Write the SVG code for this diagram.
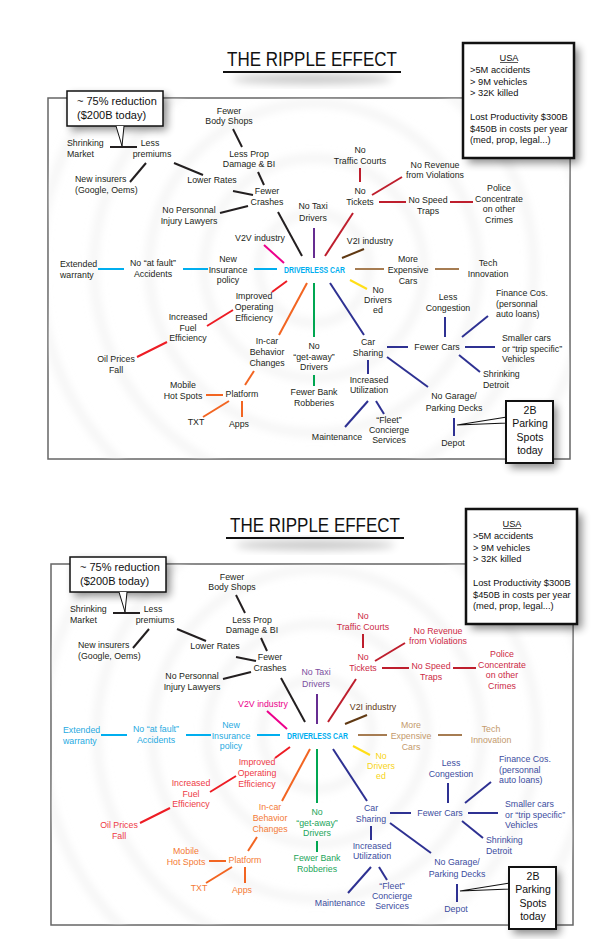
<svg xmlns="http://www.w3.org/2000/svg" width="612" height="939" viewBox="0 0 612 939">
<defs>
<style>
text{font-family:"Liberation Sans",Arial,sans-serif;font-size:8.8px;text-anchor:middle;fill:#231f20}
.s{text-anchor:start}
.dc{font-weight:bold;font-size:9px;fill:#00aeef}
.title{font-size:20px;fill:#111}
.box{font-size:9.3px;text-anchor:start;fill:#111}
.call{font-size:11px;text-anchor:start;fill:#111}
.call2{font-size:10.5px;fill:#111}
.cn line{stroke-width:2;fill:none}
.lk{stroke:#231f20}.lm{stroke:#ec008c}.lp{stroke:#662d91}.lr{stroke:#be1e2d}.lb{stroke:#603913}
.lt{stroke:#a67c52}.ly{stroke:#ffde17}.ln{stroke:#2e3192}.lg{stroke:#00a651}.lc{stroke:#00aeef}
.le{stroke:#ed1c24}.lo{stroke:#f26522}
.tm{fill:#ec008c}.tp{fill:#7b4fa0}.tr{fill:#cc2a45}.tb{fill:#603913}.tt{fill:#c49a6c}.ty{fill:#f7d417}
.tn{fill:#3c4da0}.tg{fill:#22a55a}.tc{fill:#27aae1}.te{fill:#ee3a45}.to{fill:#f47a36}
.ring{fill:none;stroke:#e6e6e6;stroke-width:8;opacity:.45}
.frame{fill:#fff;stroke:#666;stroke-width:1.5}
.shadow{fill:#000;opacity:.45}
.bx{fill:#fff;stroke:#111}
</style>
<filter id="bs" x="-50%" y="-50%" width="200%" height="200%"><feGaussianBlur stdDeviation="4"/></filter>
<filter id="br" x="-20%" y="-20%" width="140%" height="140%"><feGaussianBlur stdDeviation="4"/></filter>
<clipPath id="clipF" clipPathUnits="userSpaceOnUse"><rect x="48" y="98" width="522" height="361"/></clipPath>
</defs>
<rect width="612" height="939" fill="#fff"/>

<g id="panel-top">
 <g id="t-title">
  <ellipse cx="312" cy="79" rx="80" ry="5" fill="#000" opacity=".22" filter="url(#bs)"/>
  <text class="title" x="312" y="66" textLength="170" lengthAdjust="spacingAndGlyphs">THE RIPPLE EFFECT</text>
  <line x1="223" y1="72" x2="401" y2="72" stroke="#111" stroke-width="2"/>
 </g>
 <rect id="t-frame" class="frame" x="48" y="98" width="522" height="361"/>
 <g id="t-ripples" clip-path="url(#clipF)" filter="url(#br)">
  <circle class="ring" cx="314" cy="268" r="55"/>
  <circle class="ring" cx="314" cy="268" r="110"/>
  <circle class="ring" cx="314" cy="268" r="165"/>
  <circle class="ring" cx="314" cy="268" r="220"/>
  <circle class="ring" cx="314" cy="268" r="275"/>
 </g>
 <g id="t-connectors" class="cn">
  <line class="lk" x1="233" y1="129" x2="242" y2="147"/>
  <line class="lk" x1="258" y1="172" x2="264" y2="185"/>
  <line class="lk" x1="110" y1="147" x2="137" y2="147"/>
  <line class="lk" x1="146" y1="163" x2="130" y2="182"/>
  <line class="lk" x1="174" y1="163" x2="203" y2="175"/>
  <line class="lk" x1="233" y1="191" x2="253" y2="195"/>
  <line class="lk" x1="220" y1="213" x2="248" y2="206"/>
  <line class="lk" x1="278" y1="212" x2="302" y2="256"/>
  <line class="lm" x1="264" y1="245" x2="284" y2="263"/>
  <line class="lp" x1="314" y1="228" x2="314" y2="258"/>
  <line class="lr" x1="325" y1="256" x2="353" y2="213"/>
  <line class="lr" x1="360" y1="168" x2="360" y2="182"/>
  <line class="lr" x1="372" y1="195" x2="402" y2="177"/>
  <line class="lr" x1="379" y1="202" x2="406" y2="202"/>
  <line class="lr" x1="450" y1="202" x2="473" y2="202"/>
  <line class="lb" x1="342" y1="258" x2="364" y2="249"/>
  <line class="lt" x1="355" y1="269" x2="384" y2="269"/>
  <line class="lt" x1="435" y1="269" x2="459" y2="269"/>
  <line class="ly" x1="350" y1="280" x2="367" y2="289"/>
  <line class="ln" x1="330" y1="283" x2="364" y2="335"/>
  <line class="ln" x1="387" y1="347" x2="408" y2="347"/>
  <line class="ln" x1="445" y1="317" x2="445" y2="337"/>
  <line class="ln" x1="462" y1="337" x2="488" y2="316"/>
  <line class="ln" x1="465" y1="347" x2="495" y2="347"/>
  <line class="ln" x1="459" y1="355" x2="480" y2="372"/>
  <line class="ln" x1="387" y1="357" x2="428" y2="387"/>
  <line class="ln" x1="454" y1="418" x2="454" y2="436"/>
  <line class="ln" x1="368" y1="360" x2="368" y2="374"/>
  <line class="ln" x1="368" y1="401" x2="345" y2="427"/>
  <line class="ln" x1="376" y1="401" x2="384" y2="414"/>
  <line class="lg" x1="314" y1="283" x2="314" y2="337"/>
  <line class="lg" x1="314" y1="375" x2="314" y2="386"/>
  <line class="lc" x1="98" y1="269" x2="124" y2="269"/>
  <line class="lc" x1="183" y1="269" x2="208" y2="269"/>
  <line class="lc" x1="254" y1="269" x2="277" y2="269"/>
  <line class="le" x1="287" y1="281" x2="272" y2="292"/>
  <line class="le" x1="233" y1="310" x2="207" y2="326"/>
  <line class="le" x1="167" y1="342" x2="137" y2="357"/>
  <line class="lo" x1="307" y1="283" x2="279" y2="335"/>
  <line class="lo" x1="254" y1="371" x2="245" y2="385"/>
  <line class="lo" x1="206" y1="395" x2="223" y2="395"/>
  <line class="lo" x1="229" y1="401" x2="203" y2="417"/>
  <line class="lo" x1="242" y1="401" x2="242" y2="417"/>
 </g>
 <g id="t-fewer-body-shops"><text><tspan x="229" y="114">Fewer</tspan><tspan x="229" y="124">Body Shops</tspan></text></g>
 <g id="t-less-prop"><text><tspan x="249" y="157">Less Prop</tspan><tspan x="249" y="167">Damage &amp; BI</tspan></text></g>
 <g id="t-fewer-crashes"><text><tspan x="267" y="194">Fewer</tspan><tspan x="267" y="205">Crashes</tspan></text></g>
 <g id="t-shrinking-market"><text class="s"><tspan x="67" y="146">Shrinking</tspan><tspan x="67" y="157">Market</tspan></text></g>
 <g id="t-less-premiums"><text><tspan x="150" y="146">Less</tspan><tspan x="152" y="157">premiums</tspan></text></g>
 <g id="t-new-insurers"><text class="s"><tspan x="75" y="182">New insurers</tspan><tspan x="75" y="193">(Google, Oems)</tspan></text></g>
 <g id="t-lower-rates"><text x="212" y="183">Lower Rates</text></g>
 <g id="t-no-personnal"><text><tspan x="189" y="213">No Personnal</tspan><tspan x="189" y="224">Injury Lawyers</tspan></text></g>
 <g id="t-v2v"><text x="260" y="241">V2V industry</text></g>
 <g id="t-no-taxi"><text><tspan x="313" y="209">No Taxi</tspan><tspan x="313" y="221">Drivers</tspan></text></g>
 <g id="t-no-traffic-courts"><text><tspan x="360" y="153">No</tspan><tspan x="360" y="164">Traffic Courts</tspan></text></g>
 <g id="t-no-tickets"><text><tspan x="360" y="194">No</tspan><tspan x="360" y="205">Tickets</tspan></text></g>
 <g id="t-no-revenue"><text><tspan x="435" y="168">No Revenue</tspan><tspan x="435" y="178">from Violations</tspan></text></g>
 <g id="t-no-speed-traps"><text><tspan x="428" y="203">No Speed</tspan><tspan x="428" y="214">Traps</tspan></text></g>
 <g id="t-police"><text><tspan x="499" y="191">Police</tspan><tspan x="499" y="202">Concentrate</tspan><tspan x="499" y="212">on other</tspan><tspan x="499" y="223">Crimes</tspan></text></g>
 <g id="t-v2i"><text x="370" y="244">V2I industry</text></g>
 <g id="t-driverless-car"><text class="dc" x="314.5" y="273" textLength="61" lengthAdjust="spacingAndGlyphs">DRIVERLESS CAR</text></g>
 <g id="t-more-expensive"><text><tspan x="408" y="262">More</tspan><tspan x="408" y="273">Expensive</tspan><tspan x="408" y="284">Cars</tspan></text></g>
 <g id="t-tech"><text><tspan x="488" y="266">Tech</tspan><tspan x="488" y="277">Innovation</tspan></text></g>
 <g id="t-no-drivers-ed"><text><tspan x="378" y="293">No</tspan><tspan x="378" y="303">Drivers</tspan><tspan x="378" y="313">ed</tspan></text></g>
 <g id="t-car-sharing"><text><tspan x="368" y="345">Car</tspan><tspan x="368" y="356">Sharing</tspan></text></g>
 <g id="t-fewer-cars"><text x="437" y="350">Fewer Cars</text></g>
 <g id="t-less-congestion"><text><tspan x="448" y="300">Less</tspan><tspan x="448" y="311">Congestion</tspan></text></g>
 <g id="t-finance"><text class="s"><tspan x="496" y="296">Finance Cos.</tspan><tspan x="496" y="307">(personnal</tspan><tspan x="496" y="317">auto loans)</tspan></text></g>
 <g id="t-smaller-cars"><text class="s"><tspan x="502" y="341">Smaller cars</tspan><tspan x="502" y="352">or “trip specific”</tspan><tspan x="502" y="362">Vehicles</tspan></text></g>
 <g id="t-shrinking-detroit"><text class="s"><tspan x="483" y="377">Shrinking</tspan><tspan x="483" y="388">Detroit</tspan></text></g>
 <g id="t-no-garage"><text><tspan x="454" y="399">No Garage/</tspan><tspan x="454" y="411">Parking Decks</tspan></text></g>
 <g id="t-depot"><text x="453" y="446">Depot</text></g>
 <g id="t-increased-util"><text><tspan x="369" y="383">Increased</tspan><tspan x="369" y="393">Utilization</tspan></text></g>
 <g id="t-maintenance"><text x="337" y="440">Maintenance</text></g>
 <g id="t-fleet"><text><tspan x="389" y="423">“Fleet”</tspan><tspan x="389" y="433">Concierge</tspan><tspan x="389" y="443">Services</tspan></text></g>
 <g id="t-no-getaway"><text><tspan x="314" y="349">No</tspan><tspan x="314" y="360">“get-away”</tspan><tspan x="314" y="370">Drivers</tspan></text></g>
 <g id="t-fewer-bank"><text><tspan x="314" y="395">Fewer Bank</tspan><tspan x="314" y="406">Robberies</tspan></text></g>
 <g id="t-extended"><text class="s"><tspan x="60" y="267">Extended</tspan><tspan x="60" y="278">warranty</tspan></text></g>
 <g id="t-no-at-fault"><text><tspan x="153" y="266">No “at fault”</tspan><tspan x="153" y="277">Accidents</tspan></text></g>
 <g id="t-new-insurance"><text><tspan x="228" y="262">New</tspan><tspan x="228" y="273">Insurance</tspan><tspan x="228" y="283">policy</tspan></text></g>
 <g id="t-improved"><text><tspan x="254" y="299">Improved</tspan><tspan x="254" y="310">Operating</tspan><tspan x="254" y="321">Efficiency</tspan></text></g>
 <g id="t-increased-fuel"><text><tspan x="188" y="320">Increased</tspan><tspan x="188" y="331">Fuel</tspan><tspan x="188" y="341">Efficiency</tspan></text></g>
 <g id="t-oil"><text><tspan x="116" y="362">Oil Prices</tspan><tspan x="116" y="373">Fall</tspan></text></g>
 <g id="t-in-car"><text><tspan x="267" y="344">In-car</tspan><tspan x="267" y="355">Behavior</tspan><tspan x="267" y="366">Changes</tspan></text></g>
 <g id="t-platform"><text x="242" y="397">Platform</text></g>
 <g id="t-mobile"><text><tspan x="183" y="388">Mobile</tspan><tspan x="183" y="399">Hot Spots</tspan></text></g>
 <g id="t-txt"><text x="196" y="425">TXT</text></g>
 <g id="t-apps"><text x="239" y="427">Apps</text></g>
 <g id="t-usa-box">
  <rect class="shadow" x="468" y="48" width="111" height="115" filter="url(#bs)"/>
  <rect class="bx" x="463" y="43" width="111" height="115" stroke-width="2.5"/>
  <text class="box" style="text-anchor:middle" x="509" y="61">USA</text>
  <line x1="500" y1="62.5" x2="518" y2="62.5" stroke="#111" stroke-width=".7"/>
  <text class="box"><tspan x="470" y="73">&gt;5M accidents</tspan><tspan x="470" y="85">&gt; 9M vehicles</tspan><tspan x="470" y="96">&gt; 32K killed</tspan><tspan x="470" y="120">Lost Productivity $300B</tspan><tspan x="470" y="132">$450B in costs per year</tspan><tspan x="470" y="143">(med, prop, legal...)</tspan></text>
 </g>
 <g id="t-callout-reduction">
  <rect class="shadow" x="71" y="95" width="96" height="35" filter="url(#bs)"/>
  <rect class="bx" x="67" y="91" width="96" height="35" stroke-width="1.5"/>
  <path d="M116,126 L122,146 L124,126" fill="#fff" stroke="#111" stroke-width="1"/>
  <text class="call"><tspan x="77" y="105">~ 75% reduction</tspan><tspan x="77" y="119">($200B today)</tspan></text>
 </g>
 <g id="t-callout-parking">
  <rect class="shadow" x="510" y="406" width="47" height="62" filter="url(#bs)"/>
  <path d="M507,417 L457,425 L507,423 Z" fill="#fff" stroke="#111" stroke-width="1.2"/>
  <rect class="bx" x="506" y="401" width="47" height="62" stroke-width="2"/>
  <text class="call2"><tspan x="530" y="414">2B</tspan><tspan x="530" y="427">Parking</tspan><tspan x="530" y="441">Spots</tspan><tspan x="530" y="454">today</tspan></text>
 </g>
</g>

<g id="panel-bottom" transform="translate(3,466)">
 <g id="b-title">
  <ellipse cx="312" cy="79" rx="80" ry="5" fill="#000" opacity=".22" filter="url(#bs)"/>
  <text class="title" x="312" y="66" textLength="170" lengthAdjust="spacingAndGlyphs">THE RIPPLE EFFECT</text>
  <line x1="223" y1="72" x2="401" y2="72" stroke="#111" stroke-width="2"/>
 </g>
 <rect id="b-frame" class="frame" x="48" y="98" width="522" height="361"/>
 <g id="b-ripples" clip-path="url(#clipF)" filter="url(#br)">
  <circle class="ring" cx="314" cy="268" r="55"/>
  <circle class="ring" cx="314" cy="268" r="110"/>
  <circle class="ring" cx="314" cy="268" r="165"/>
  <circle class="ring" cx="314" cy="268" r="220"/>
  <circle class="ring" cx="314" cy="268" r="275"/>
 </g>
 <g id="b-connectors" class="cn">
  <line class="lk" x1="233" y1="129" x2="242" y2="147"/>
  <line class="lk" x1="258" y1="172" x2="264" y2="185"/>
  <line class="lk" x1="110" y1="147" x2="137" y2="147"/>
  <line class="lk" x1="146" y1="163" x2="130" y2="182"/>
  <line class="lk" x1="174" y1="163" x2="203" y2="175"/>
  <line class="lk" x1="233" y1="191" x2="253" y2="195"/>
  <line class="lk" x1="220" y1="213" x2="248" y2="206"/>
  <line class="lk" x1="278" y1="212" x2="302" y2="256"/>
  <line class="lm" x1="264" y1="245" x2="284" y2="263"/>
  <line class="lp" x1="314" y1="228" x2="314" y2="258"/>
  <line class="lr" x1="325" y1="256" x2="353" y2="213"/>
  <line class="lr" x1="360" y1="168" x2="360" y2="182"/>
  <line class="lr" x1="372" y1="195" x2="402" y2="177"/>
  <line class="lr" x1="379" y1="202" x2="406" y2="202"/>
  <line class="lr" x1="450" y1="202" x2="473" y2="202"/>
  <line class="lb" x1="342" y1="258" x2="364" y2="249"/>
  <line class="lt" x1="355" y1="269" x2="384" y2="269"/>
  <line class="lt" x1="435" y1="269" x2="459" y2="269"/>
  <line class="ly" x1="350" y1="280" x2="367" y2="289"/>
  <line class="ln" x1="330" y1="283" x2="364" y2="335"/>
  <line class="ln" x1="387" y1="347" x2="408" y2="347"/>
  <line class="ln" x1="445" y1="317" x2="445" y2="337"/>
  <line class="ln" x1="462" y1="337" x2="488" y2="316"/>
  <line class="ln" x1="465" y1="347" x2="495" y2="347"/>
  <line class="ln" x1="459" y1="355" x2="480" y2="372"/>
  <line class="ln" x1="387" y1="357" x2="428" y2="387"/>
  <line class="ln" x1="454" y1="418" x2="454" y2="436"/>
  <line class="ln" x1="368" y1="360" x2="368" y2="374"/>
  <line class="ln" x1="368" y1="401" x2="345" y2="427"/>
  <line class="ln" x1="376" y1="401" x2="384" y2="414"/>
  <line class="lg" x1="314" y1="283" x2="314" y2="337"/>
  <line class="lg" x1="314" y1="375" x2="314" y2="386"/>
  <line class="lc" x1="98" y1="269" x2="124" y2="269"/>
  <line class="lc" x1="183" y1="269" x2="208" y2="269"/>
  <line class="lc" x1="254" y1="269" x2="277" y2="269"/>
  <line class="le" x1="287" y1="281" x2="272" y2="292"/>
  <line class="le" x1="233" y1="310" x2="207" y2="326"/>
  <line class="le" x1="167" y1="342" x2="137" y2="357"/>
  <line class="lo" x1="307" y1="283" x2="279" y2="335"/>
  <line class="lo" x1="254" y1="371" x2="245" y2="385"/>
  <line class="lo" x1="206" y1="395" x2="223" y2="395"/>
  <line class="lo" x1="229" y1="401" x2="203" y2="417"/>
  <line class="lo" x1="242" y1="401" x2="242" y2="417"/>
 </g>
 <g id="b-fewer-body-shops"><text><tspan x="229" y="114">Fewer</tspan><tspan x="229" y="124">Body Shops</tspan></text></g>
 <g id="b-less-prop"><text><tspan x="249" y="157">Less Prop</tspan><tspan x="249" y="167">Damage &amp; BI</tspan></text></g>
 <g id="b-fewer-crashes"><text><tspan x="267" y="194">Fewer</tspan><tspan x="267" y="205">Crashes</tspan></text></g>
 <g id="b-shrinking-market"><text class="s"><tspan x="67" y="146">Shrinking</tspan><tspan x="67" y="157">Market</tspan></text></g>
 <g id="b-less-premiums"><text><tspan x="150" y="146">Less</tspan><tspan x="152" y="157">premiums</tspan></text></g>
 <g id="b-new-insurers"><text class="s"><tspan x="75" y="182">New insurers</tspan><tspan x="75" y="193">(Google, Oems)</tspan></text></g>
 <g id="b-lower-rates"><text x="212" y="183">Lower Rates</text></g>
 <g id="b-no-personnal"><text><tspan x="189" y="213">No Personnal</tspan><tspan x="189" y="224">Injury Lawyers</tspan></text></g>
 <g id="b-v2v"><text class="tm" x="260" y="241">V2V industry</text></g>
 <g id="b-no-taxi"><text class="tp"><tspan x="313" y="209">No Taxi</tspan><tspan x="313" y="221">Drivers</tspan></text></g>
 <g id="b-no-traffic-courts"><text class="tr"><tspan x="360" y="153">No</tspan><tspan x="360" y="164">Traffic Courts</tspan></text></g>
 <g id="b-no-tickets"><text class="tr"><tspan x="360" y="194">No</tspan><tspan x="360" y="205">Tickets</tspan></text></g>
 <g id="b-no-revenue"><text class="tr"><tspan x="435" y="168">No Revenue</tspan><tspan x="435" y="178">from Violations</tspan></text></g>
 <g id="b-no-speed-traps"><text class="tr"><tspan x="428" y="203">No Speed</tspan><tspan x="428" y="214">Traps</tspan></text></g>
 <g id="b-police"><text class="tr"><tspan x="499" y="191">Police</tspan><tspan x="499" y="202">Concentrate</tspan><tspan x="499" y="212">on other</tspan><tspan x="499" y="223">Crimes</tspan></text></g>
 <g id="b-v2i"><text class="tb" x="370" y="244">V2I industry</text></g>
 <g id="b-driverless-car"><text class="dc" x="314.5" y="273" textLength="61" lengthAdjust="spacingAndGlyphs">DRIVERLESS CAR</text></g>
 <g id="b-more-expensive"><text class="tt"><tspan x="408" y="262">More</tspan><tspan x="408" y="273">Expensive</tspan><tspan x="408" y="284">Cars</tspan></text></g>
 <g id="b-tech"><text class="tt"><tspan x="488" y="266">Tech</tspan><tspan x="488" y="277">Innovation</tspan></text></g>
 <g id="b-no-drivers-ed"><text class="ty"><tspan x="378" y="293">No</tspan><tspan x="378" y="303">Drivers</tspan><tspan x="378" y="313">ed</tspan></text></g>
 <g id="b-car-sharing"><text class="tn"><tspan x="368" y="345">Car</tspan><tspan x="368" y="356">Sharing</tspan></text></g>
 <g id="b-fewer-cars"><text class="tn" x="437" y="350">Fewer Cars</text></g>
 <g id="b-less-congestion"><text class="tn"><tspan x="448" y="300">Less</tspan><tspan x="448" y="311">Congestion</tspan></text></g>
 <g id="b-finance"><text class="s tn"><tspan x="496" y="296">Finance Cos.</tspan><tspan x="496" y="307">(personnal</tspan><tspan x="496" y="317">auto loans)</tspan></text></g>
 <g id="b-smaller-cars"><text class="s tn"><tspan x="502" y="341">Smaller cars</tspan><tspan x="502" y="352">or “trip specific”</tspan><tspan x="502" y="362">Vehicles</tspan></text></g>
 <g id="b-shrinking-detroit"><text class="s tn"><tspan x="483" y="377">Shrinking</tspan><tspan x="483" y="388">Detroit</tspan></text></g>
 <g id="b-no-garage"><text class="tn"><tspan x="454" y="399">No Garage/</tspan><tspan x="454" y="411">Parking Decks</tspan></text></g>
 <g id="b-depot"><text class="tn" x="453" y="446">Depot</text></g>
 <g id="b-increased-util"><text class="tn"><tspan x="369" y="383">Increased</tspan><tspan x="369" y="393">Utilization</tspan></text></g>
 <g id="b-maintenance"><text class="tn" x="337" y="440">Maintenance</text></g>
 <g id="b-fleet"><text class="tn"><tspan x="389" y="423">“Fleet”</tspan><tspan x="389" y="433">Concierge</tspan><tspan x="389" y="443">Services</tspan></text></g>
 <g id="b-no-getaway"><text class="tg"><tspan x="314" y="349">No</tspan><tspan x="314" y="360">“get-away”</tspan><tspan x="314" y="370">Drivers</tspan></text></g>
 <g id="b-fewer-bank"><text class="tg"><tspan x="314" y="395">Fewer Bank</tspan><tspan x="314" y="406">Robberies</tspan></text></g>
 <g id="b-extended"><text class="s tc"><tspan x="60" y="267">Extended</tspan><tspan x="60" y="278">warranty</tspan></text></g>
 <g id="b-no-at-fault"><text class="tc"><tspan x="153" y="266">No “at fault”</tspan><tspan x="153" y="277">Accidents</tspan></text></g>
 <g id="b-new-insurance"><text class="tc"><tspan x="228" y="262">New</tspan><tspan x="228" y="273">Insurance</tspan><tspan x="228" y="283">policy</tspan></text></g>
 <g id="b-improved"><text class="te"><tspan x="254" y="299">Improved</tspan><tspan x="254" y="310">Operating</tspan><tspan x="254" y="321">Efficiency</tspan></text></g>
 <g id="b-increased-fuel"><text class="te"><tspan x="188" y="320">Increased</tspan><tspan x="188" y="331">Fuel</tspan><tspan x="188" y="341">Efficiency</tspan></text></g>
 <g id="b-oil"><text class="te"><tspan x="116" y="362">Oil Prices</tspan><tspan x="116" y="373">Fall</tspan></text></g>
 <g id="b-in-car"><text class="to"><tspan x="267" y="344">In-car</tspan><tspan x="267" y="355">Behavior</tspan><tspan x="267" y="366">Changes</tspan></text></g>
 <g id="b-platform"><text class="to" x="242" y="397">Platform</text></g>
 <g id="b-mobile"><text class="to"><tspan x="183" y="388">Mobile</tspan><tspan x="183" y="399">Hot Spots</tspan></text></g>
 <g id="b-txt"><text class="to" x="196" y="425">TXT</text></g>
 <g id="b-apps"><text class="to" x="239" y="427">Apps</text></g>
 <g id="b-usa-box">
  <rect class="shadow" x="468" y="48" width="111" height="115" filter="url(#bs)"/>
  <rect class="bx" x="463" y="43" width="111" height="115" stroke-width="2.5"/>
  <text class="box" style="text-anchor:middle" x="509" y="61">USA</text>
  <line x1="500" y1="62.5" x2="518" y2="62.5" stroke="#111" stroke-width=".7"/>
  <text class="box"><tspan x="470" y="73">&gt;5M accidents</tspan><tspan x="470" y="85">&gt; 9M vehicles</tspan><tspan x="470" y="96">&gt; 32K killed</tspan><tspan x="470" y="120">Lost Productivity $300B</tspan><tspan x="470" y="132">$450B in costs per year</tspan><tspan x="470" y="143">(med, prop, legal...)</tspan></text>
 </g>
 <g id="b-callout-reduction">
  <rect class="shadow" x="71" y="95" width="96" height="35" filter="url(#bs)"/>
  <rect class="bx" x="67" y="91" width="96" height="35" stroke-width="1.5"/>
  <path d="M116,126 L122,146 L124,126" fill="#fff" stroke="#111" stroke-width="1"/>
  <text class="call"><tspan x="77" y="105">~ 75% reduction</tspan><tspan x="77" y="119">($200B today)</tspan></text>
 </g>
 <g id="b-callout-parking">
  <rect class="shadow" x="510" y="406" width="47" height="62" filter="url(#bs)"/>
  <path d="M507,417 L457,425 L507,423 Z" fill="#fff" stroke="#111" stroke-width="1.2"/>
  <rect class="bx" x="506" y="401" width="47" height="62" stroke-width="2"/>
  <text class="call2"><tspan x="530" y="414">2B</tspan><tspan x="530" y="427">Parking</tspan><tspan x="530" y="441">Spots</tspan><tspan x="530" y="454">today</tspan></text>
 </g>
</g>
</svg>
